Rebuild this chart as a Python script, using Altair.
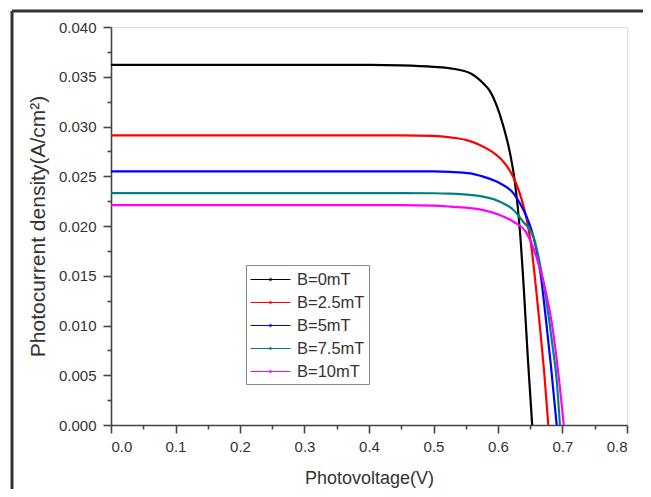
import altair as alt
import pandas as pd

series_names = ["B=0mT", "B=2.5mT", "B=5mT", "B=7.5mT", "B=10mT"]
series_colors = ["#000000", "#ff0000", "#0000ff", "#008080", "#ff00ff"]

v_b0 = [0.0, 0.1, 0.2, 0.3, 0.4, 0.45, 0.5, 0.526, 0.557, 0.577, 0.588, 0.598, 0.608, 0.619, 0.626, 0.634, 0.640, 0.646, 0.653]
j_b0 = [0.0362, 0.0362, 0.0362, 0.0362, 0.0362, 0.03615, 0.0360, 0.03585, 0.03535, 0.03434, 0.0335, 0.0321, 0.0301, 0.0272, 0.0245, 0.0195, 0.0137, 0.0070, 0.0]

v_b25 = [0.0, 0.1, 0.2, 0.3, 0.4, 0.45, 0.5, 0.526, 0.55, 0.57, 0.59, 0.605, 0.618, 0.628, 0.637, 0.645, 0.652, 0.659, 0.666, 0.672, 0.678]
j_b25 = [0.0291, 0.0291, 0.0291, 0.0291, 0.0291, 0.0291, 0.02905, 0.0289, 0.02865, 0.0282, 0.0275, 0.0267, 0.0256, 0.0243, 0.0226, 0.0205, 0.0178, 0.0137, 0.0092, 0.0050, 0.0]

v_b5 = [0.0, 0.1, 0.2, 0.3, 0.4, 0.45, 0.5, 0.526, 0.557, 0.577, 0.603, 0.624, 0.634, 0.6445, 0.652, 0.659, 0.666, 0.674, 0.682, 0.691]
j_b5 = [0.0255, 0.0255, 0.0255, 0.0255, 0.0255, 0.0255, 0.02549, 0.02544, 0.02529, 0.02496, 0.02429, 0.02328, 0.02228, 0.0209, 0.0196, 0.0178, 0.0152, 0.0108, 0.0060, 0.0]

v_b75 = [0.0, 0.1, 0.2, 0.3, 0.4, 0.45, 0.5, 0.526, 0.577, 0.603, 0.624, 0.639, 0.655, 0.665, 0.675, 0.684, 0.691, 0.696]
j_b75 = [0.0233, 0.0233, 0.0233, 0.0233, 0.0233, 0.0233, 0.02329, 0.02325, 0.02295, 0.02244, 0.02161, 0.02043, 0.01890, 0.0162, 0.0125, 0.0082, 0.0045, 0.0]

v_b10 = [0.0, 0.1, 0.2, 0.3, 0.4, 0.45, 0.5, 0.526, 0.577, 0.603, 0.624, 0.6445, 0.660, 0.672, 0.684, 0.693, 0.702]
j_b10 = [0.0221, 0.0221, 0.0221, 0.0221, 0.0221, 0.0221, 0.02205, 0.02194, 0.0216, 0.0211, 0.02043, 0.01926, 0.0168, 0.0140, 0.0100, 0.0055, 0.0]

x_major = [0.0, 0.1, 0.2, 0.3, 0.4, 0.5, 0.6, 0.7, 0.8]
x_minor = [0.05, 0.15, 0.25, 0.35, 0.45, 0.55, 0.65, 0.75]
y_major = [0.000, 0.005, 0.010, 0.015, 0.020, 0.025, 0.030, 0.035, 0.040]
y_minor = [0.0025, 0.0075, 0.0125, 0.0175, 0.0225, 0.0275, 0.0325, 0.0375]

rows = []
for name, vs, js in zip(series_names,
                        [v_b0, v_b25, v_b5, v_b75, v_b10],
                        [j_b0, j_b25, j_b5, j_b75, j_b10]):
    for i, (v, j) in enumerate(zip(vs, js)):
        rows.append({"series": name, "V": v, "J": j, "order": i})
df = pd.DataFrame(rows)

FONT = "Liberation Sans"
AX = "#444444"
TXT = "#333333"

legend_path = "M-2,0H2M-0.12,0A0.12,0.12 0 1,0 0.12,0A0.12,0.12 0 1,0 -0.12,0"

xscale = alt.Scale(domain=[0, 0.8], nice=False, zero=False)
yscale = alt.Scale(domain=[0, 0.04], nice=False, zero=False)

lines = alt.Chart(df).mark_line(strokeWidth=2.2, interpolate="monotone", clip=True).encode(
    x=alt.X("V:Q", scale=xscale, title="Photovoltage(V)",
            axis=alt.Axis(orient="bottom", values=x_major, format=".1f", grid=False,
                          domainColor=AX, domainWidth=1.6, tickColor=AX, tickWidth=1.6,
                          tickSize=8, labelFont=FONT, labelFontSize=15, labelColor=TXT,
                          labelPadding=6, titleFont=FONT, titleFontSize=18,
                          titleFontWeight="normal", titleColor=TXT, titlePadding=15)),
    y=alt.Y("J:Q", scale=yscale, title="Photocurrent density(A/cm²)",
            axis=alt.Axis(orient="left", values=y_major, format=".3f", grid=False,
                          domainColor=AX, domainWidth=1.6, tickColor=AX, tickWidth=1.6,
                          tickSize=8, labelFont=FONT, labelFontSize=15, labelColor=TXT,
                          labelPadding=7, titleFont=FONT, titleFontSize=21,
                          titleFontWeight="normal", titleColor=TXT, titlePadding=10)),
    color=alt.Color("series:N", sort=series_names,
                    scale=alt.Scale(domain=series_names, range=series_colors),
                    legend=alt.Legend(orient="none", legendX=135, legendY=238, title=None,
                                      symbolType=legend_path, symbolSize=400,
                                      symbolOffset=10, symbolStrokeWidth=1,
                                      labelFont=FONT, labelFontSize=16.5, labelColor=TXT,
                                      labelOffset=16, strokeColor="#888888", padding=4,
                                      rowPadding=4, fillColor="white")),
    order="order:Q",
)

minor = alt.Chart(pd.DataFrame({"V": [0.0], "J": [0.0]})).mark_point(opacity=0).encode(
    x=alt.X("V:Q", scale=xscale, title=None,
            axis=alt.Axis(orient="bottom", values=x_minor, labels=False, domain=False,
                          grid=False, tickColor=AX, tickWidth=1.6, tickSize=4)),
    y=alt.Y("J:Q", scale=yscale, title=None,
            axis=alt.Axis(orient="left", values=y_minor, labels=False, domain=False,
                          grid=False, tickColor=AX, tickWidth=1.6, tickSize=4)),
)

frame_top = alt.Chart(pd.DataFrame({"k": [0]})).mark_rule(color="#333333", strokeWidth=3).encode(
    x=alt.value(-99), x2=alt.value(540), y=alt.value(-16))
frame_left = alt.Chart(pd.DataFrame({"k": [0]})).mark_rule(color="#333333", strokeWidth=3).encode(
    x=alt.value(-99), y=alt.value(-16), y2=alt.value(470))

chart = alt.layer(minor, lines, frame_top, frame_left).resolve_axis(
    x="independent", y="independent"
).properties(
    width=516, height=398,
    autosize=alt.AutoSizeParams(type="none"),
    padding={"left": 103, "top": 19, "right": 16, "bottom": 64},
).configure_view(stroke=None).configure(background="white")

chart.save("out.html", embed_options={"renderer": "svg", "actions": False})
